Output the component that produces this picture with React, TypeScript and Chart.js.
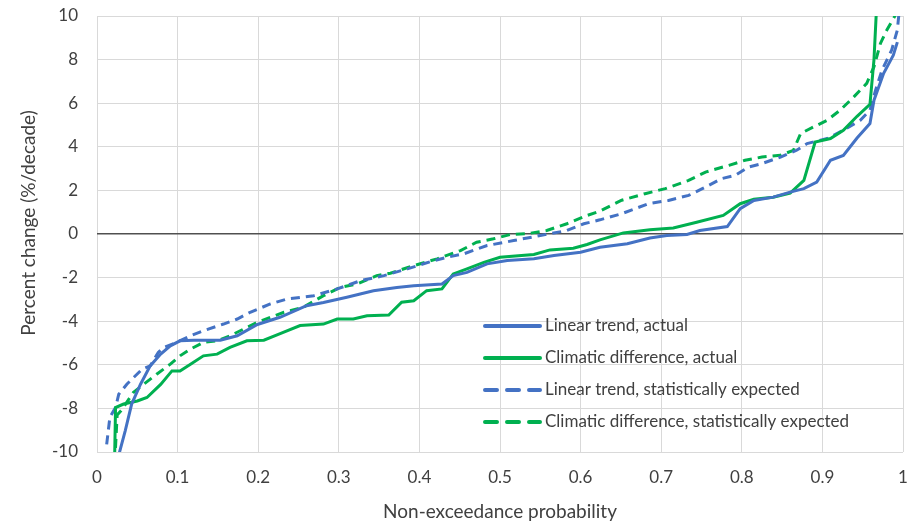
import React, { useEffect, useRef } from 'react';
import { Chart, registerables } from 'chart.js';

Chart.register(...registerables);

// ---- Data ----
const seriesLabels = [
  'Linear trend, actual',
  'Climatic difference, actual',
  'Linear trend, statistically expected',
  'Climatic difference, statistically expected',
];

const linActualX = [0.026, 0.028, 0.035, 0.043, 0.054, 0.066, 0.079, 0.091, 0.103, 0.12, 0.153, 0.174, 0.199, 0.227, 0.26, 0.281, 0.31, 0.343, 0.372, 0.393, 0.428, 0.442, 0.459, 0.484, 0.509, 0.542, 0.567, 0.6, 0.624, 0.658, 0.686, 0.707, 0.732, 0.748, 0.782, 0.798, 0.815, 0.839, 0.86, 0.877, 0.893, 0.91, 0.926, 0.943, 0.959, 0.964, 0.976, 0.988, 0.993];
const linActualY = [-11, -10, -9.03, -7.8, -6.89, -6.05, -5.51, -5.13, -4.9, -4.87, -4.87, -4.67, -4.15, -3.82, -3.29, -3.14, -2.9, -2.6, -2.45, -2.37, -2.29, -1.91, -1.76, -1.37, -1.22, -1.14, -0.99, -0.84, -0.61, -0.45, -0.18, -0.07, -0.02, 0.16, 0.34, 1.16, 1.54, 1.69, 1.92, 2.08, 2.38, 3.38, 3.6, 4.4, 5.07, 6.14, 7.37, 8.2, 8.8];

const climActualX = [0.021, 0.022, 0.023, 0.033, 0.05, 0.062, 0.079, 0.093, 0.103, 0.116, 0.132, 0.149, 0.165, 0.186, 0.207, 0.228, 0.252, 0.281, 0.298, 0.318, 0.335, 0.362, 0.378, 0.393, 0.409, 0.428, 0.442, 0.459, 0.48, 0.5, 0.542, 0.562, 0.591, 0.608, 0.624, 0.653, 0.686, 0.715, 0.744, 0.777, 0.798, 0.815, 0.839, 0.86, 0.877, 0.891, 0.91, 0.926, 0.943, 0.959, 0.964, 0.968];
const climActualY = [-11, -10, -7.96, -7.8, -7.66, -7.5, -6.9, -6.28, -6.28, -5.97, -5.59, -5.51, -5.2, -4.9, -4.87, -4.56, -4.2, -4.13, -3.9, -3.9, -3.75, -3.72, -3.13, -3.06, -2.6, -2.52, -1.83, -1.6, -1.3, -1.07, -0.94, -0.73, -0.65, -0.48, -0.27, 0.05, 0.19, 0.28, 0.54, 0.85, 1.39, 1.59, 1.69, 1.88, 2.46, 4.22, 4.38, 4.76, 5.4, 5.95, 8.0, 11];

const linExpX = [0.012, 0.016, 0.023, 0.027, 0.037, 0.056, 0.066, 0.076, 0.083, 0.099, 0.116, 0.132, 0.157, 0.174, 0.19, 0.215, 0.236, 0.269, 0.298, 0.327, 0.356, 0.385, 0.418, 0.434, 0.455, 0.484, 0.517, 0.55, 0.583, 0.604, 0.624, 0.651, 0.684, 0.709, 0.734, 0.751, 0.775, 0.792, 0.808, 0.825, 0.848, 0.868, 0.881, 0.906, 0.926, 0.947, 0.959, 0.966, 0.974, 0.986, 0.993, 0.996];
const linExpY = [-9.65, -8.4, -7.96, -7.35, -6.89, -6.2, -6.05, -5.43, -5.2, -4.97, -4.67, -4.44, -4.13, -3.9, -3.59, -3.21, -2.98, -2.83, -2.52, -2.14, -1.91, -1.6, -1.22, -1.07, -0.91, -0.53, -0.3, -0.07, 0.16, 0.47, 0.65, 0.93, 1.39, 1.54, 1.77, 2.08, 2.54, 2.69, 3.07, 3.23, 3.53, 3.84, 4.15, 4.38, 4.76, 5.22, 5.68, 6.6, 7.52, 8.44, 9.36, 10.5];

const climExpX = [0.022, 0.025, 0.03, 0.045, 0.058, 0.074, 0.091, 0.103, 0.116, 0.132, 0.149, 0.165, 0.199, 0.232, 0.256, 0.281, 0.302, 0.323, 0.347, 0.364, 0.393, 0.422, 0.451, 0.471, 0.492, 0.513, 0.533, 0.558, 0.583, 0.608, 0.624, 0.651, 0.68, 0.705, 0.734, 0.755, 0.784, 0.804, 0.825, 0.848, 0.864, 0.873, 0.889, 0.906, 0.922, 0.939, 0.955, 0.964, 0.972, 0.98, 0.993];
const climExpY = [-10.5, -8.3, -8.1, -7.27, -6.89, -6.43, -5.97, -5.59, -5.28, -4.97, -4.9, -4.67, -4.05, -3.59, -3.36, -2.83, -2.45, -2.29, -1.91, -1.8, -1.45, -1.14, -0.76, -0.38, -0.22, -0.02, 0.01, 0.16, 0.47, 0.85, 1.05, 1.55, 1.85, 2.08, 2.46, 2.84, 3.15, 3.38, 3.53, 3.61, 3.84, 4.61, 4.91, 5.22, 5.68, 6.29, 6.91, 7.67, 8.74, 9.36, 10.2];

const xTickMin = 0;
const xTickMax = 1;
const xTickStep = 0.1;
const yTickMin = -10;
const yTickMax = 10;
const yTickStep = 2;

const xTitle = 'Non-exceedance probability';
const yTitle = 'Percent change (%/decade)';

const BLUE = '#4472C4';
const GREEN = '#00B050';
const TEXT = '#404040';
const FONT = 'Lato, "Open Sans", sans-serif';

const toPoints = (xs: number[], ys: number[]) => xs.map((x, i) => ({ x, y: ys[i] }));

const insideLegend = {
  id: 'insideLegend',
  afterDatasetsDraw(chart: any) {
    const { ctx, chartArea } = chart;
    const lineStart = chartArea.left + 388;
    const lineEnd = chartArea.left + 443;
    const textX = chartArea.left + 448;
    const firstRow = chartArea.bottom - 126;
    const rowGap = 32;
    ctx.save();
    ctx.font = `17px ${FONT}`;
    ctx.textBaseline = 'middle';
    ctx.textAlign = 'left';
    chart.data.datasets.forEach((ds: any, i: number) => {
      const y = firstRow + i * rowGap;
      ctx.beginPath();
      ctx.strokeStyle = ds.borderColor;
      ctx.lineWidth = 4;
      ctx.lineCap = 'round';
      ctx.setLineDash(ds.borderDash && ds.borderDash.length ? [12, 10] : []);
      ctx.moveTo(lineStart, y);
      ctx.lineTo(lineEnd, y);
      ctx.stroke();
      ctx.setLineDash([]);
      ctx.fillStyle = TEXT;
      ctx.fillText(ds.label, textX, y);
    });
    ctx.restore();
  },
};

// Y axis title, drawn a little above the plot centre as in the reference
const yAxisTitle = {
  id: 'yAxisTitle',
  afterDraw(chart: any) {
    const { ctx, chartArea } = chart;
    const cy = (chartArea.top + chartArea.bottom) / 2 - 11;
    ctx.save();
    ctx.translate(29, cy);
    ctx.rotate(-Math.PI / 2);
    ctx.font = `19px ${FONT}`;
    ctx.fillStyle = TEXT;
    ctx.textAlign = 'center';
    ctx.textBaseline = 'middle';
    ctx.fillText(yTitle, 0, 0);
    ctx.restore();
  },
};

export default function App() {
  const ref = useRef<HTMLCanvasElement>(null);

  useEffect(() => {
    document.body.style.margin = '0';
    const canvas = ref.current;
    if (!canvas) return;
    const chart = new Chart(canvas, {
      type: 'line',
      data: {
        datasets: [
          { label: seriesLabels[0], data: toPoints(linActualX, linActualY), borderColor: BLUE, borderWidth: 3, borderDash: [] },
          { label: seriesLabels[1], data: toPoints(climActualX, climActualY), borderColor: GREEN, borderWidth: 3, borderDash: [] },
          { label: seriesLabels[2], data: toPoints(linExpX, linExpY), borderColor: BLUE, borderWidth: 3, borderDash: [9, 6] },
          { label: seriesLabels[3], data: toPoints(climExpX, climExpY), borderColor: GREEN, borderWidth: 3, borderDash: [9, 6] },
        ].map((d) => ({ ...d, pointRadius: 0, tension: 0, fill: false, clip: 0, backgroundColor: d.borderColor })),
      },
      options: {
        animation: false,
        responsive: true,
        maintainAspectRatio: false,
        layout: { padding: { left: 0, right: 6, top: 16, bottom: 0 } },
        plugins: {
          legend: { display: false },
          tooltip: { enabled: false },
        },
        scales: {
          x: {
            type: 'linear',
            min: xTickMin,
            max: xTickMax,
            afterFit: (s: any) => {
              s.height = 73;
              s.paddingLeft = 0;
              s.paddingRight = 0;
              s.paddingTop = 0;
              s.paddingBottom = 0;
            },
            ticks: {
              stepSize: xTickStep,
              color: TEXT,
              font: { family: FONT, size: 17 },
              padding: 15,
              maxRotation: 0,
              callback: (v: any) => String(Math.round(Number(v) * 10) / 10),
            },
            grid: { color: '#d9d9d9', lineWidth: 1, drawTicks: false },
            border: { display: false },
            title: {
              display: true,
              text: xTitle,
              color: TEXT,
              font: { family: FONT, size: 19 },
              padding: { top: 0, bottom: 2 },
            },
          },
          y: {
            type: 'linear',
            min: yTickMin,
            max: yTickMax,
            afterFit: (s: any) => {
              s.width = 97;
              s.paddingLeft = 0;
              s.paddingRight = 0;
              s.paddingTop = 0;
              s.paddingBottom = 0;
            },
            ticks: {
              stepSize: yTickStep,
              color: TEXT,
              font: { family: FONT, size: 17 },
              padding: 19,
            },
            grid: {
              color: (c: any) => (c.tick && c.tick.value === 0 ? '#505050' : '#d9d9d9'),
              lineWidth: (c: any) => (c.tick && c.tick.value === 0 ? 1.5 : 1),
              drawTicks: false,
            },
            border: { display: false },
            title: { display: false },
          },
        },
      },
      plugins: [insideLegend, yAxisTitle],
    } as any);
    return () => chart.destroy();
  }, []);

  return (
    <div style={{ width: 909, height: 525, position: 'relative' }}>
      <canvas ref={ref} />
    </div>
  );
}
